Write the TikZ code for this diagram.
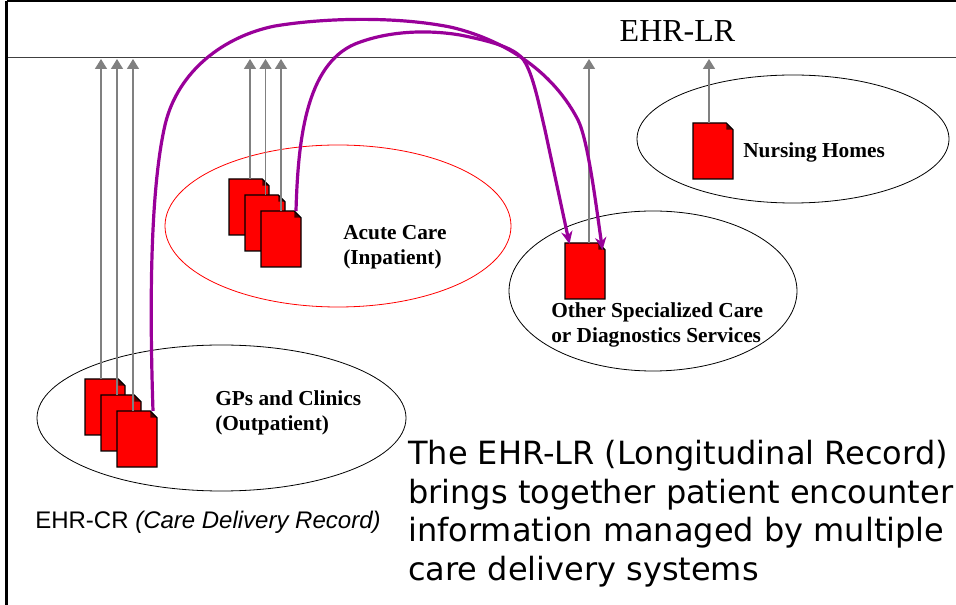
\documentclass[tikz,border=0pt]{standalone}
\usepackage{fontspec}
\setmainfont{Liberation Serif}
\newfontfamily\arialf{Liberation Sans}
\newfontfamily\verdf{DejaVu Sans}
\usetikzlibrary{arrows.meta}
\tikzset{
  docbox/.style={minimum width=30pt,minimum height=42pt,inner sep=0pt,outer sep=0pt},
  feed/.style={draw=black!50,line width=1.1pt,-{Triangle[length=7.5pt,width=9pt]}},
  link/.style={draw={rgb,255:red,153;green,0;blue,153},line width=2.4pt,-{Stealth[length=9.5pt,width=8.5pt]}},
  sitelabel/.style={font=\bfseries\fontsize{16}{18.75}\selectfont,align=left,anchor=north west,inner sep=0pt},
  bodytext/.style={font=\verdf\fontsize{24}{28.9}\selectfont,align=left,anchor=north west,inner sep=0pt}
}
\newcommand{\docsheet}[3]{%
  \node[docbox] (#1) at (#2+20,#3+28) {};
  \fill[red] (#1.north west) -- ([xshift=-5pt]#1.north east) -- ([yshift=-5pt]#1.north east) -- (#1.south east) -- (#1.south west) -- cycle;
  \fill[black!70!red] ([xshift=-5pt]#1.north east) -- ([yshift=-5pt]#1.north east) -- ([xshift=-5pt,yshift=-5pt]#1.north east) -- cycle;
  \draw[black,line width=0.9pt,line join=miter] (#1.north west) -- ([xshift=-5pt]#1.north east) -- ([yshift=-5pt]#1.north east) -- (#1.south east) -- (#1.south west) -- cycle;
}
\begin{document}
\begin{tikzpicture}[x=0.75pt,y=-0.75pt]
\useasboundingbox (0,0) rectangle (956,605);
\fill[white] (0,0) rectangle (956,605);
% frame
\coordinate (tl) at (6.5,1); \coordinate (tr) at (956,1);
\coordinate (bl) at (6.5,605);
\coordinate (ml) at (6.5,57.5); \coordinate (mr) at (956,57.5);
\draw[black,line width=0.8pt] (tl) -- (tr);
\draw[black!75,line width=0.8pt] (ml) -- (mr);
\draw[black,line width=2.4pt] (tl) -- (bl);
\node[font=\fontsize{24}{28}\selectfont,inner sep=0pt] (lr) at (677.5,31) {EHR-LR};
% ellipses
\draw[black,line width=0.6pt] (793,139) ellipse [x radius=156,y radius=64];
\draw[red,line width=0.6pt] (338,226) ellipse [x radius=173,y radius=81];
\draw[black,line width=0.6pt] (653,291) ellipse [x radius=144,y radius=80];
\draw[black,line width=0.6pt] (221.5,418) ellipse [x radius=184.5,y radius=73];
% documents
\docsheet{g1}{85}{379}
\docsheet{g2}{101}{395}
\docsheet{a1}{229}{179}
\docsheet{a2}{245}{195}
\coordinate (gt1) at (101,59); \coordinate (gt2) at (117,59); \coordinate (gt3) at (133,59);
\coordinate (at1) at (250,59); \coordinate (at2) at (265.5,59); \coordinate (at3) at (281,59);
\coordinate (ot) at (589,59); \coordinate (nt) at (709,59);
\docsheet{g3}{117}{411}
\docsheet{a3}{261}{211}
\docsheet{o1}{565}{243}
\docsheet{n1}{693}{123}
% gray feeds
\draw[feed] (gt1 |- g1.north) -- (gt1);
\draw[feed] (gt2 |- g2.north) -- (gt2);
\draw[feed] (gt3 |- g3.north) -- (gt3);
\draw[feed] (at1 |- a1.north) -- (at1);
\draw[feed] (at2 |- a2.north) -- (at2);
\draw[feed] (at3 |- a3.north) -- (at3);
\draw[feed] (ot |- o1.north) -- (ot);
\draw[feed] (nt |- n1.north) -- (nt);
% purple links
\coordinate (gs) at (153,411);
\coordinate (as) at (296,211);
\coordinate (oe1) at (569.5,244);
\coordinate (oe2) at (602.5,250);
\draw[link] (gs) .. controls (150,320) and (149,195) .. (165,125)
  .. controls (178,70) and (225,36) .. (275,26)
  .. controls (330,17) and (400,17) .. (450,27)
  .. controls (490,36) and (548,62) .. (578,120)
  .. controls (588,140) and (596,205) .. (oe2);
\draw[link] (as) .. controls (298,140) and (306,65) .. (355,44)
  .. controls (390,30) and (430,30) .. (460,35)
  .. controls (490,41) and (512,47) .. (522,58)
  .. controls (532,70) and (538,100) .. (545,130)
  -- (oe1);
% labels
\node[sitelabel] (ln) at (743,142) {Nursing Homes};
\node[sitelabel] (la) at (343,225) {Acute Care\\(Inpatient)};
\node[sitelabel] (lo) at (551,302) {Other Specialized Care\\or Diagnostics Services};
\node[sitelabel] (lg) at (215,390) {GPs and Clinics\\(Outpatient)};
\node[font=\arialf\fontsize{18}{22}\selectfont,anchor=west,inner sep=0pt] (cr) at (35,522) {EHR-CR \textit{(Care Delivery Record)}};
\node[bodytext] (body) at (408,440) {The EHR-LR (Longitudinal Record)\\brings together patient encounter\\information managed by multiple\\care delivery systems};
\end{tikzpicture}
\end{document}
